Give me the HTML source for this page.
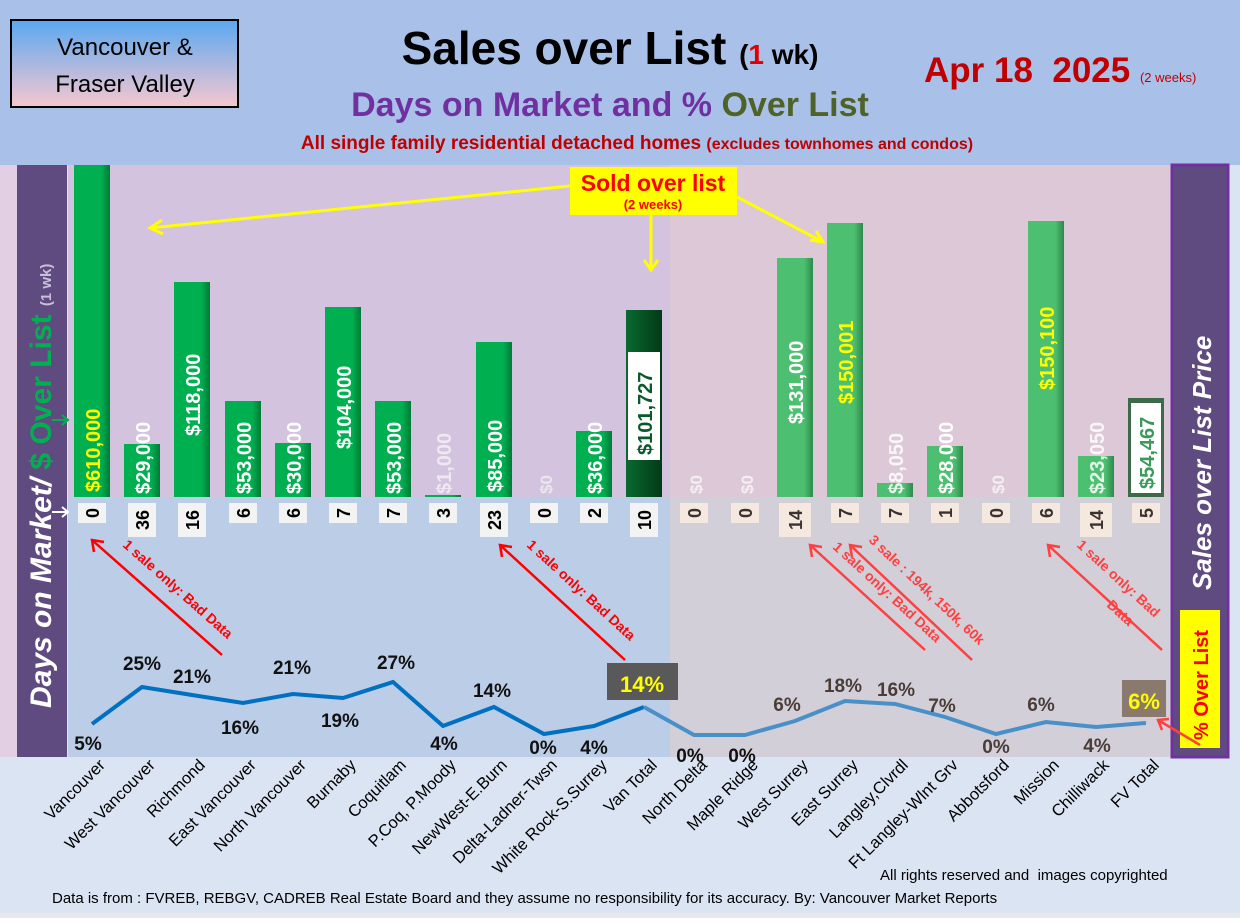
<!DOCTYPE html>
<html><head><meta charset="utf-8"><style>
html,body{margin:0;padding:0;}
body{width:1240px;height:918px;overflow:hidden;font-family:"Liberation Sans",sans-serif;}
</style></head><body>
<svg width="1240" height="918" viewBox="0 0 1240 918" xmlns="http://www.w3.org/2000/svg" font-family="Liberation Sans, sans-serif">
<defs>
<linearGradient id="tb" x1="0" y1="0" x2="0" y2="1"><stop offset="0" stop-color="#5aa8f0"/><stop offset="1" stop-color="#f6c7d0"/></linearGradient>
<linearGradient id="g" x1="0" y1="0" x2="1" y2="0"><stop offset="0" stop-color="#00b050"/><stop offset="0.75" stop-color="#00b050"/><stop offset="1" stop-color="#007a35"/></linearGradient>
<linearGradient id="g2" x1="0" y1="0" x2="1" y2="0"><stop offset="0" stop-color="#4cc070"/><stop offset="0.75" stop-color="#4cc070"/><stop offset="1" stop-color="#2e8a4c"/></linearGradient>
<linearGradient id="gd" x1="0" y1="0" x2="1" y2="0"><stop offset="0" stop-color="#0a6a30"/><stop offset="1" stop-color="#023a18"/></linearGradient>
</defs>
<rect width="1240" height="918" fill="#dbe4f3"/>
<rect width="1240" height="165" fill="#a9c1e8"/>
<rect x="0" y="165" width="17" height="592" fill="#e2cfe3"/>
<rect x="68" y="165" width="602" height="332" fill="#d3c3de"/>
<rect x="68" y="497" width="602" height="260" fill="#bccde8"/>
<rect x="670" y="165" width="502" height="332" fill="#dcc8d6"/>
<rect x="670" y="497" width="502" height="260" fill="#d2cfd9"/>
<rect x="17" y="165" width="50" height="592" fill="#5f4b7f"/>
<rect x="1172" y="165" width="56" height="592" fill="#5f4b7f" stroke="#7030a0" stroke-width="3"/>
<rect x="11" y="20" width="227" height="87" fill="url(#tb)" stroke="#000" stroke-width="2"/>
<text x="125" y="55" font-size="24" text-anchor="middle">Vancouver &amp;</text>
<text x="125" y="92" font-size="24" text-anchor="middle">Fraser Valley</text>
<text x="610" y="64" font-size="46" font-weight="bold" text-anchor="middle">Sales over List <tspan font-size="28">(<tspan fill="#e00000">1</tspan> wk)</tspan></text>
<text x="610" y="116" font-size="34" font-weight="bold" text-anchor="middle" fill="#7030a0">Days on Market and % <tspan fill="#4f6228">Over List</tspan></text>
<text x="637" y="149" font-size="19" font-weight="bold" text-anchor="middle" fill="#c00000">All single family residential detached homes <tspan font-size="16">(excludes townhomes and condos)</tspan></text>
<text x="924" y="82" font-size="35" font-weight="bold" fill="#c00000">Apr 18&#160; 2025 <tspan font-size="13" font-weight="normal">(2 weeks)</tspan></text>
<text transform="translate(51,708) rotate(-90)" font-size="30" font-weight="bold" font-style="italic" fill="#fff">Days on Market/ <tspan fill="#00b050" font-style="normal">$ Over List</tspan> <tspan font-size="15" fill="#c8c0d8" font-style="normal">(1 wk)</tspan></text>
<text transform="translate(1211,590) rotate(-90)" font-size="26" font-weight="bold" font-style="italic" fill="#fff">Sales over List Price</text>
<rect x="1180" y="610" width="40" height="138" fill="#ffff00"/>
<text transform="translate(1208,740) rotate(-90)" font-size="20" font-weight="bold" fill="#ff0000">% Over List</text>
<path d="M52,420 H68 M62,415 L68,420 L62,425" stroke="#00b050" stroke-width="2" fill="none"/>
<path d="M52,512 H68 M62,507 L68,512 L62,517" stroke="#fff" stroke-width="2" fill="none"/>
<g>
<rect x="74" y="165" width="36" height="332" fill="url(#g)"/>
<rect x="124" y="444" width="36" height="53" fill="url(#g)"/>
<rect x="174" y="282" width="36" height="215" fill="url(#g)"/>
<rect x="225" y="401" width="36" height="96" fill="url(#g)"/>
<rect x="275" y="443" width="36" height="54" fill="url(#g)"/>
<rect x="325" y="307" width="36" height="190" fill="url(#g)"/>
<rect x="375" y="401" width="36" height="96" fill="url(#g)"/>
<rect x="425" y="495" width="36" height="2" fill="url(#g)"/>
<rect x="476" y="342" width="36" height="155" fill="url(#g)"/>
<rect x="576" y="431" width="36" height="66" fill="url(#g)"/>
<rect x="626" y="310" width="36" height="187" fill="url(#gd)"/>
<rect x="777" y="258" width="36" height="239" fill="url(#g2)"/>
<rect x="827" y="223" width="36" height="274" fill="url(#g2)"/>
<rect x="877" y="483" width="36" height="14" fill="url(#g2)"/>
<rect x="927" y="446" width="36" height="51" fill="url(#g2)"/>
<rect x="1028" y="221" width="36" height="276" fill="url(#g2)"/>
<rect x="1078" y="456" width="36" height="41" fill="url(#g2)"/>
<rect x="1128" y="398" width="36" height="99" fill="#3d6b4a"/>
<rect x="628" y="352" width="32" height="108" fill="#fff"/>
<rect x="1131" y="403" width="30" height="90" fill="#fff"/>
</g>
<g font-size="20" font-weight="bold" fill="#fff">
<text transform="translate(100,492) rotate(-90)" fill="#ffff00">$610,000</text>
<text transform="translate(150,494) rotate(-90)">$29,000</text>
<text transform="translate(200,436) rotate(-90)">$118,000</text>
<text transform="translate(251,494) rotate(-90)">$53,000</text>
<text transform="translate(301,494) rotate(-90)">$30,000</text>
<text transform="translate(351,449) rotate(-90)">$104,000</text>
<text transform="translate(401,494) rotate(-90)">$53,000</text>
<text transform="translate(451,494) rotate(-90)" fill="#f0e8f0">$1,000</text>
<text transform="translate(502,492) rotate(-90)">$85,000</text>
<text transform="translate(552,494) rotate(-90)" font-size="17" fill="#f0f0f0" opacity="0.8">$0</text>
<text transform="translate(602,494) rotate(-90)">$36,000</text>
<text transform="translate(652,455) rotate(-90)" fill="#0b5a2b">$101,727</text>
<text transform="translate(702,494) rotate(-90)" font-size="17" opacity="0.7">$0</text>
<text transform="translate(753,494) rotate(-90)" font-size="17" opacity="0.7">$0</text>
<text transform="translate(803,424) rotate(-90)">$131,000</text>
<text transform="translate(853,404) rotate(-90)" fill="#ffff00">$150,001</text>
<text transform="translate(903,494) rotate(-90)" opacity="0.85">$8,050</text>
<text transform="translate(953,494) rotate(-90)">$28,000</text>
<text transform="translate(1004,494) rotate(-90)" font-size="17" opacity="0.7">$0</text>
<text transform="translate(1054,390) rotate(-90)" fill="#ffff00">$150,100</text>
<text transform="translate(1104,494) rotate(-90)" opacity="0.85">$23,050</text>
<text transform="translate(1154,489) rotate(-90)" fill="#3a9a5a">$54,467</text>
</g>
<g fill="#f3f3f3">
<rect x="78" y="503" width="28" height="20"/><rect x="128" y="503" width="28" height="34"/><rect x="178" y="503" width="28" height="34"/><rect x="229" y="503" width="28" height="20"/><rect x="279" y="503" width="28" height="20"/><rect x="329" y="503" width="28" height="20"/><rect x="379" y="503" width="28" height="20"/><rect x="429" y="503" width="28" height="20"/><rect x="480" y="503" width="28" height="34"/><rect x="530" y="503" width="28" height="20"/><rect x="580" y="503" width="28" height="20"/><rect x="630" y="503" width="28" height="34"/>
</g>
<g fill="#f5e9df">
<rect x="680" y="503" width="28" height="20"/><rect x="731" y="503" width="28" height="20"/><rect x="779" y="503" width="32" height="34"/><rect x="831" y="503" width="28" height="20"/><rect x="881" y="503" width="28" height="20"/><rect x="931" y="503" width="28" height="20"/><rect x="982" y="503" width="28" height="20"/><rect x="1032" y="503" width="28" height="20"/><rect x="1080" y="503" width="32" height="34"/><rect x="1132" y="503" width="28" height="20"/>
</g>
<g font-size="18" font-weight="bold" fill="#000" text-anchor="middle">
<text transform="translate(99,513) rotate(-90)">0</text>
<text transform="translate(149,520) rotate(-90)">36</text>
<text transform="translate(199,520) rotate(-90)">16</text>
<text transform="translate(250,513) rotate(-90)">6</text>
<text transform="translate(300,513) rotate(-90)">6</text>
<text transform="translate(350,513) rotate(-90)">7</text>
<text transform="translate(400,513) rotate(-90)">7</text>
<text transform="translate(450,513) rotate(-90)">3</text>
<text transform="translate(501,520) rotate(-90)">23</text>
<text transform="translate(551,513) rotate(-90)">0</text>
<text transform="translate(601,513) rotate(-90)">2</text>
<text transform="translate(651,520) rotate(-90)">10</text>
<g fill="#3a3230">
<text transform="translate(701,513) rotate(-90)">0</text>
<text transform="translate(752,513) rotate(-90)">0</text>
<text transform="translate(802,520) rotate(-90)">14</text>
<text transform="translate(852,513) rotate(-90)">7</text>
<text transform="translate(902,513) rotate(-90)">7</text>
<text transform="translate(952,513) rotate(-90)">1</text>
<text transform="translate(1003,513) rotate(-90)">0</text>
<text transform="translate(1053,513) rotate(-90)">6</text>
<text transform="translate(1103,520) rotate(-90)">14</text>
<text transform="translate(1153,513) rotate(-90)">5</text>
</g></g>
<rect x="570" y="167" width="167" height="48" fill="#ffff00"/>
<text x="653" y="191" font-size="23" font-weight="bold" fill="#ff0000" text-anchor="middle">Sold over list</text>
<text x="653" y="209" font-size="13" font-weight="bold" fill="#ff0000" text-anchor="middle">(2 weeks)</text>
<g stroke="#ffff00" stroke-width="3" fill="none">
<path d="M570,186 L150,228 M162,220 L150,228 L163,234"/>
<path d="M737,197 L823,242 M810,240 L823,242 L816,231"/>
<path d="M651,215 L651,270 M644,260 L651,270 L658,260"/>
</g>
<polyline points="92,724 142,687 192,695 243,703 293,694 343,698 393,682 443,726 494,707 544,734 594,726 644,707" fill="none" stroke="#0070c0" stroke-width="4"/>
<polyline points="644,707 694,735 745,735 795,721 845,701 895,704 945,717 996,734 1046,722 1096,727 1146,723" fill="none" stroke="#4a90c8" stroke-width="4"/>
<g font-size="19" font-weight="bold" fill="#111" text-anchor="middle">
<text x="88" y="750">5%</text><text x="142" y="670">25%</text><text x="192" y="683">21%</text><text x="240" y="734">16%</text><text x="292" y="674">21%</text><text x="340" y="727">19%</text><text x="396" y="669">27%</text><text x="444" y="750">4%</text><text x="492" y="697">14%</text><text x="543" y="754">0%</text><text x="594" y="754">4%</text>
<text x="690" y="762">0%</text><text x="742" y="762">0%</text>
<g fill="#4a3c36"><text x="787" y="711">6%</text><text x="843" y="692">18%</text><text x="896" y="696">16%</text><text x="942" y="712">7%</text><text x="996" y="753">0%</text><text x="1041" y="711">6%</text><text x="1097" y="752">4%</text></g>
</g>
<rect x="607" y="663" width="71" height="37" fill="#595959"/>
<text x="642" y="692" font-size="22" font-weight="bold" fill="#ffff00" text-anchor="middle">14%</text>
<rect x="1122" y="680" width="44" height="37" fill="#8a7a6e"/>
<text x="1144" y="709" font-size="22" font-weight="bold" fill="#ffff00" text-anchor="middle">6%</text>
<g stroke="#ff0000" stroke-width="2.5" fill="none">
<path d="M222,655 L92,540 M94,552 L92,540 L104,542"/>
<path d="M625,660 L500,545 M502,557 L500,545 L512,547"/>
</g>
<g stroke="#ff4040" stroke-width="2.5" fill="none">
<path d="M925,650 L810,545 M812,557 L810,545 L822,547"/>
<path d="M972,660 L850,545 M852,557 L850,545 L862,547"/>
<path d="M1162,650 L1048,545 M1050,557 L1048,545 L1060,547"/>
<path d="M1200,745 L1158,720 M1162,730 L1158,720 L1169,719"/>
</g>
<g font-size="14" font-weight="bold" fill="#ff0000">
<text transform="translate(122,546) rotate(41.5)">1 sale only: Bad Data</text>
<text transform="translate(526,546) rotate(42.5)">1 sale only: Bad Data</text>
<g fill="#ff4040">
<text transform="translate(832,548) rotate(42.5)">1 sale only: Bad Data</text>
<text transform="translate(868,541) rotate(43.3)">3 sale : 194k, 150k, 60k</text>
<text transform="translate(1076,546) rotate(42.5)">1 sale only: Bad</text>
<text transform="translate(1106,606) rotate(42.5)">Data</text>
</g></g>
<g font-size="16.5" fill="#000" text-anchor="end">
<text transform="translate(106,766) rotate(-45)">Vancouver</text>
<text transform="translate(156,766) rotate(-45)">West Vancouver</text>
<text transform="translate(206,766) rotate(-45)">Richmond</text>
<text transform="translate(257,766) rotate(-45)">East Vancouver</text>
<text transform="translate(307,766) rotate(-45)">North Vancouver</text>
<text transform="translate(357,766) rotate(-45)">Burnaby</text>
<text transform="translate(407,766) rotate(-45)">Coquitlam</text>
<text transform="translate(457,766) rotate(-45)">P.Coq, P.Moody</text>
<text transform="translate(508,766) rotate(-45)">NewWest-E.Burn</text>
<text transform="translate(558,766) rotate(-45)">Delta-Ladner-Twsn</text>
<text transform="translate(608,766) rotate(-45)">White Rock-S.Surrey</text>
<text transform="translate(658,766) rotate(-45)">Van Total</text>
<text transform="translate(708,766) rotate(-45)">North Delta</text>
<text transform="translate(759,766) rotate(-45)">Maple Ridge</text>
<text transform="translate(809,766) rotate(-45)">West Surrey</text>
<text transform="translate(859,766) rotate(-45)">East Surrey</text>
<text transform="translate(909,766) rotate(-45)">Langley,Clvrdl</text>
<text transform="translate(959,766) rotate(-45)">Ft Langley-Wlnt Grv</text>
<text transform="translate(1010,766) rotate(-45)">Abbotsford</text>
<text transform="translate(1060,766) rotate(-45)">Mission</text>
<text transform="translate(1110,766) rotate(-45)">Chilliwack</text>
<text transform="translate(1160,766) rotate(-45)">FV Total</text>
</g>
<text x="880" y="880" font-size="15" fill="#000">All rights reserved and&#160; images copyrighted</text>
<text x="52" y="903" font-size="15" fill="#000">Data is from : FVREB, REBGV, CADREB Real Estate Board and they assume no responsibility for its accuracy. By: Vancouver Market Reports</text>
<rect x="0" y="913" width="1240" height="5" fill="#e8e8ea"/>
</svg>
</body></html>
